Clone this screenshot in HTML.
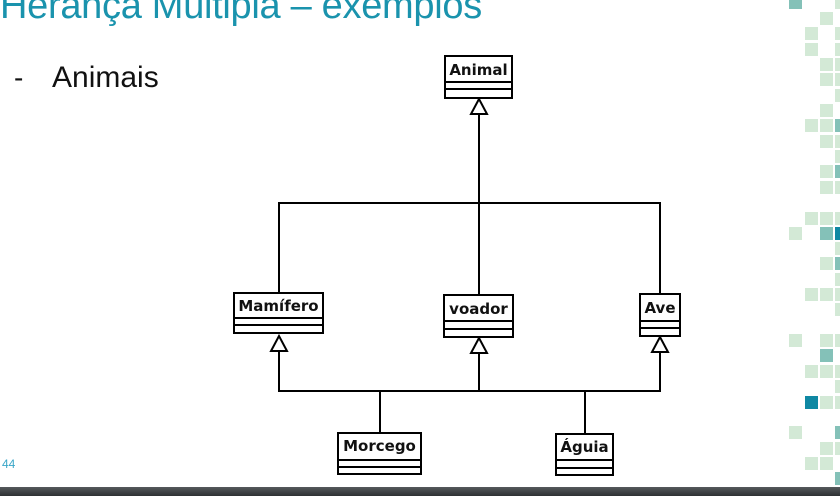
<!DOCTYPE html>
<html><head><meta charset="utf-8"><style>
html,body{margin:0;padding:0;}
body{width:840px;height:496px;position:relative;overflow:hidden;background:#fff;font-family:"Liberation Sans","DejaVu Sans",sans-serif;}
.t{position:absolute;left:0;top:-15px;font-size:38px;color:#1a93ad;white-space:nowrap;letter-spacing:-0.3px;}
.d{position:absolute;left:14px;top:62px;font-size:28px;color:#111;}
.b{position:absolute;left:52px;top:61px;font-size:30px;color:#111;white-space:nowrap;}
.n{position:absolute;left:2px;top:457px;font-size:12px;color:#3aa6c8;}
.bar{position:absolute;left:0;top:487px;width:840px;height:9px;background:linear-gradient(#55595c,#2e3133);}
.sq{position:absolute;width:13px;height:13px;}
</style></head><body>
<div class="t">Herança Múltipla – exemplos</div>
<div class="d">-</div>
<div class="b">Animais</div>
<div class="n">44</div>
<svg width="840" height="496" style="position:absolute;left:0;top:0" font-family="DejaVu Sans, sans-serif" font-weight="bold" font-size="15">
<g fill="#fff" stroke="#000" stroke-width="2">
<rect x="445" y="56" width="67" height="42"/><line x1="445" y1="82" x2="512" y2="82"/><line x1="445" y1="89" x2="512" y2="89"/>
<rect x="234" y="293" width="89" height="40"/><line x1="234" y1="318" x2="323" y2="318"/><line x1="234" y1="325" x2="323" y2="325"/>
<rect x="444" y="295" width="69" height="42"/><line x1="444" y1="321" x2="513" y2="321"/><line x1="444" y1="329" x2="513" y2="329"/>
<rect x="640" y="294" width="40" height="42"/><line x1="640" y1="321" x2="680" y2="321"/><line x1="640" y1="328" x2="680" y2="328"/>
<rect x="338" y="433" width="83" height="41"/><line x1="338" y1="460" x2="421" y2="460"/><line x1="338" y1="467" x2="421" y2="467"/>
<rect x="556" y="434" width="57" height="41"/><line x1="556" y1="460" x2="613" y2="460"/><line x1="556" y1="468" x2="613" y2="468"/>
</g>
<g fill="none" stroke="#000" stroke-width="2">
<line x1="479" y1="114" x2="479" y2="295"/>
<polyline points="279,293 279,203 660,203 660,294"/>
<polyline points="279,351 279,391 660,391 660,352"/>
<line x1="479" y1="353" x2="479" y2="391"/>
<line x1="380" y1="391" x2="380" y2="433"/>
<line x1="585" y1="391" x2="585" y2="434"/>
</g>
<g fill="#fff" stroke="#000" stroke-width="2">
<polygon points="479,99 471,114 487,114"/>
<polygon points="279,336 271,351 287,351"/>
<polygon points="479,338 471,353 487,353"/>
<polygon points="660,337 652,352 668,352"/>
</g>
<g fill="#111" text-anchor="middle">
<text x="478.5" y="75">Animal</text>
<text x="278.5" y="311">Mamífero</text>
<text x="478.5" y="314">voador</text>
<text x="660" y="313">Ave</text>
<text x="379.5" y="451">Morcego</text>
<text x="584.5" y="452">Águia</text>
</g>
</svg>
<div id="sqs"></div>
<div class="bar"></div>
<script>
var L='#d3e9d6',M='#84c1b8',D='#0f88a3';
var X={A:789,B:805,C:820,D:835};
var rows=[[0,'A',M],[0,'D',L],[12,'C',L],[27,'B',L],[27,'D',L],[43,'B',L],[43,'D',L],[58,'C',L],[58,'D',L],[73,'C',L],[73,'D',L],[89,'D',L],[104,'C',L],[119,'B',L],[119,'C',L],[119,'D',M],[135,'C',L],[135,'D',L],[150,'D',L],[165,'C',L],[165,'D',M],[181,'C',L],[181,'D',L],[212,'B',L],[212,'C',L],[212,'D',L],[227,'A',L],[227,'C',M],[227,'D',D],[242,'D',L],[257,'C',L],[257,'D',M],[273,'D',L],[288,'B',L],[288,'C',L],[288,'D',L],[303,'D',L],[334,'A',L],[334,'C',L],[334,'D',L],[349,'C',M],[365,'B',L],[365,'C',L],[365,'D',L],[380,'D',L],[396,'B',D],[396,'C',L],[396,'D',L],[426,'A',L],[426,'D',M],[442,'C',L],[442,'D',L],[457,'B',L],[457,'C',L],[472,'D',M]];
var h='';rows.forEach(function(r){h+='<div class="sq" style="left:'+X[r[1]]+'px;top:'+(r[0]===0?-4:r[0])+'px;background:'+r[2]+'"></div>';});
document.getElementById('sqs').innerHTML=h;
</script>
</body></html>
